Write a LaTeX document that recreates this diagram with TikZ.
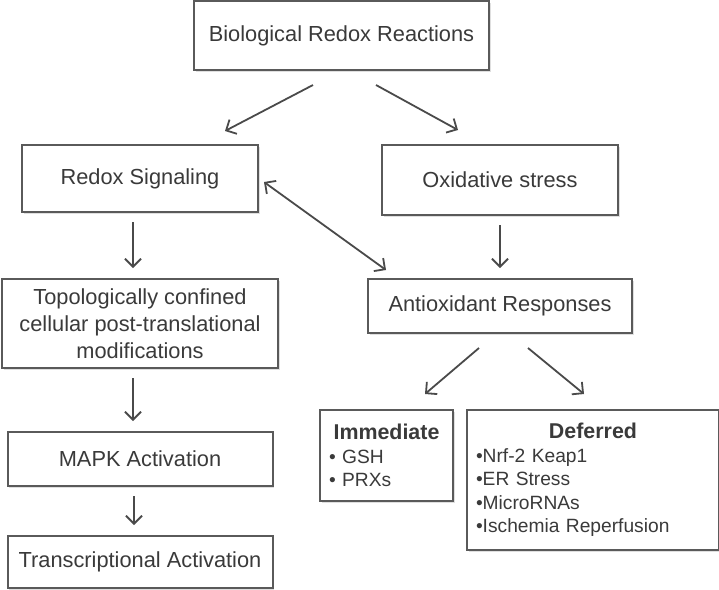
\documentclass[tikz,border=0pt]{standalone}
\usepackage{fontspec}
\setmainfont{Liberation Sans}
\usepackage{tikz}
\usetikzlibrary{positioning,arrows.meta,shadows}
\definecolor{rdrule}{HTML}{5A5A5A}
\definecolor{rdtext}{HTML}{3A3A3A}
\definecolor{rdarrow}{HTML}{4A4A4A}
\newcommand{\rdhead}[1]{\makebox[\linewidth]{\fontsize{10.7}{12}\selectfont\bfseries #1}}

\begin{document}
\begin{tikzpicture}[
  x=1pt, y=1pt,
  font=\fontsize{10.9}{13.5}\selectfont\color{rdtext},
  box/.style={draw=rdrule, line width=1pt, fill=white, align=center, inner sep=0pt,
              drop shadow={shadow xshift=0.8pt, shadow yshift=-0.8pt, opacity=0.25}},
  listbox/.style={box, align=left, anchor=north west, inner xsep=4.5pt,
                  font=\fontsize{9.6}{11.7}\selectfont\color{rdtext}},
  arr/.style={draw=rdarrow, line width=0.9pt, -{Straight Barb[length=4pt,width=8pt]}},
  both/.style={arr, {Straight Barb[length=4pt,width=8pt]}-{Straight Barb[length=4pt,width=8pt]}}]
  \useasboundingbox (0,0) rectangle (359.5,-295);
  \node[box, minimum width=147.5pt, minimum height=34.5pt] (bio) at (170.75,-17.75) {Biological Redox Reactions};
  \node[box, minimum width=118pt, minimum height=33.5pt] (sig) at (70,-89.25) {Redox Signaling};
  \node[box, minimum width=118pt, minimum height=35pt] (ox) at (250,-90) {Oxidative stress};
  \node[box, minimum width=138pt, minimum height=44.5pt, below=32.5pt of sig] (topo)
    {Topologically confined\\ cellular post-translational\\ modifications};
  \node[box, minimum width=132.5pt, minimum height=27pt, below=31pt of topo] (mapk) {MAPK Activation};
  \node[box, minimum width=132.5pt, minimum height=26pt, below=24pt of mapk] (trans) {Transcriptional Activation};
  \node[box, minimum width=132pt, minimum height=27pt, below=31pt of ox] (anti) {Antioxidant Responses};
  \node[listbox, text width=57.5pt, minimum height=45.5pt] (imm) at (159.5,-204.5)
    {\rdhead{Immediate}\\ \textbullet\ GSH\\ \textbullet\ PRXs};
  \node[listbox, text width=117pt, minimum height=70pt, right=6pt of imm.north east, anchor=north west] (def)
    {\rdhead{Deferred}\\ \textbullet Nrf-2 Keap1\\ \textbullet ER Stress\\
     \textbullet MicroRNAs\\ \textbullet Ischemia Reperfusion};
  % arrows
  \draw[arr] ([xshift=-14.25pt,yshift=-7pt]bio.south) -- ([xshift=42.5pt,yshift=6.5pt]sig.north);
  \draw[arr] ([xshift=17.25pt,yshift=-7pt]bio.south) -- ([xshift=-21pt,yshift=7pt]ox.north);
  \foreach \a/\b/\s in {sig/topo/-3.5, topo/mapk/-3.5, mapk/trans/-3, ox/anti/0}
    \draw[arr] ([xshift=\s pt,yshift=-4.5pt]\a.south) -- ([xshift=\s pt,yshift=5pt]\b.north);
  \draw[both] ([xshift=2.5pt,yshift=-1.75pt]sig.east) -- ([xshift=9.5pt,yshift=4pt]anti.north west);
  \draw[arr] ([xshift=-10.5pt,yshift=-7pt]anti.south) -- ([xshift=19.25pt,yshift=7.5pt]imm.north);
  \draw[arr] ([xshift=14pt,yshift=-7pt]anti.south) -- ([xshift=-4.5pt,yshift=7.5pt]def.north);
\end{tikzpicture}
\end{document}
